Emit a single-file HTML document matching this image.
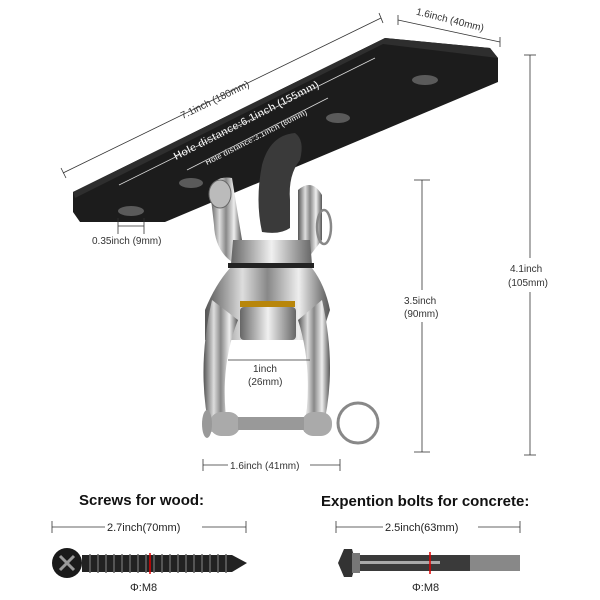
<!DOCTYPE html>
<html><head><style>
html,body{margin:0;padding:0;background:#fff;}
svg{display:block;}
text{font-family:"Liberation Sans",sans-serif;}
</style></head><body>
<svg width="600" height="600" viewBox="0 0 600 600" xmlns="http://www.w3.org/2000/svg">
<defs>
<linearGradient id="met" x1="0" x2="1" y1="0" y2="0">
<stop offset="0" stop-color="#555"/><stop offset="0.3" stop-color="#ddd"/><stop offset="0.5" stop-color="#888"/><stop offset="0.75" stop-color="#eee"/><stop offset="1" stop-color="#555"/>
</linearGradient>
<linearGradient id="met2" x1="0" x2="1"><stop offset="0" stop-color="#666"/><stop offset="0.5" stop-color="#f0f0f0"/><stop offset="1" stop-color="#666"/></linearGradient>
</defs>
<!-- plate -->
<polygon points="73,192 385,38 490,48 498,58 498,82 165,222 80,222 73,212" fill="#1c1c1c"/>
<polygon points="73,192 385,38 490,48 498,58 383,44 75,198" fill="#2e2e2e"/>
<g fill="#5a5a5a"><ellipse cx="131" cy="211" rx="13" ry="5"/><ellipse cx="191" cy="183" rx="12" ry="5"/><ellipse cx="338" cy="118" rx="12" ry="5"/><ellipse cx="425" cy="80" rx="13" ry="5"/></g>
<!-- tab -->
<path d="M262,165 Q270,135 295,133 Q305,140 300,160 Q288,175 290,200 L290,228 Q280,235 262,232 Q255,200 262,165Z" fill="#3a3a3a"/>
<!-- yoke lugs -->
<path d="M210,190 Q215,175 232,178 L242,240 L232,262 Q215,250 214,225Z" fill="url(#met)"/>
<path d="M298,190 Q312,178 322,195 L322,240 L305,262 L298,240Z" fill="url(#met)"/>
<ellipse cx="220" cy="194" rx="11" ry="14" fill="#bbb" stroke="#666"/>
<ellipse cx="324" cy="227" rx="7" ry="17" fill="none" stroke="#888" stroke-width="2.5"/>
<!-- body -->
<path d="M233,240 L310,240 L312,264 L231,264Z" fill="url(#met2)"/>
<rect x="228" y="263" width="86" height="5" fill="#222"/>
<path d="M230,268 L312,268 Q325,285 330,310 L320,340 L205,340 L205,310 Q215,285 230,268Z" fill="url(#met)"/>
<rect x="240" y="301" width="55" height="6" fill="#b8860b"/>
<rect x="240" y="307" width="56" height="33" rx="4" fill="url(#met2)"/>
<!-- shackle arms -->
<path d="M212,300 Q196,370 210,432 L228,432 Q218,370 238,320Z" fill="url(#met)"/>
<path d="M322,300 Q338,370 322,432 L304,432 Q314,370 298,320Z" fill="url(#met)"/>
<rect x="210" y="412" width="30" height="24" rx="11" fill="#aaa"/>
<rect x="302" y="412" width="30" height="24" rx="11" fill="#aaa"/>
<rect x="238" y="417" width="66" height="13" fill="#999"/>
<ellipse cx="207" cy="424" rx="5" ry="14" fill="#999"/>
<circle cx="358" cy="423" r="20" fill="none" stroke="#888" stroke-width="3"/>
<!-- dims -->
<g stroke="#333" stroke-width="0.8" fill="none">
<line x1="63" y1="173" x2="381" y2="18"/><line x1="61" y1="168" x2="66" y2="178"/><line x1="379" y1="13" x2="383" y2="23"/>
<line x1="398" y1="20" x2="500" y2="42"/><line x1="398" y1="15" x2="398" y2="25"/><line x1="500" y1="37" x2="500" y2="47"/>
<line x1="530" y1="55" x2="530" y2="258"/><line x1="530" y1="292" x2="530" y2="455"/><line x1="524" y1="55" x2="536" y2="55"/><line x1="524" y1="455" x2="536" y2="455"/>
<line x1="422" y1="180" x2="422" y2="290"/><line x1="422" y1="322" x2="422" y2="452"/><line x1="414" y1="180" x2="430" y2="180"/><line x1="414" y1="452" x2="430" y2="452"/>
<line x1="118" y1="226" x2="144" y2="226"/><line x1="118" y1="218" x2="118" y2="234"/><line x1="144" y1="218" x2="144" y2="234"/>
<line x1="228" y1="360" x2="310" y2="360"/>
<line x1="203" y1="465" x2="228" y2="465"/><line x1="310" y1="465" x2="340" y2="465"/><line x1="203" y1="459" x2="203" y2="471"/><line x1="340" y1="459" x2="340" y2="471"/>
<line x1="52" y1="527" x2="105" y2="527"/><line x1="202" y1="527" x2="246" y2="527"/><line x1="52" y1="521" x2="52" y2="533"/><line x1="246" y1="521" x2="246" y2="533"/>
<line x1="336" y1="527" x2="383" y2="527"/><line x1="478" y1="527" x2="520" y2="527"/><line x1="336" y1="521" x2="336" y2="533"/><line x1="520" y1="521" x2="520" y2="533"/>
</g>
<g stroke="#ddd" stroke-width="0.8"><line x1="119" y1="185" x2="375" y2="58"/><line x1="187" y1="170" x2="328" y2="98"/></g>
<g font-size="10" fill="#333">
<text x="215" y="103" text-anchor="middle" transform="rotate(-26 215 100)">7.1inch (180mm)</text>
<text x="450" y="23" text-anchor="middle" transform="rotate(14 450 20)">1.6inch (40mm)</text>
<text x="92" y="244">0.35inch (9mm)</text>
<text x="510" y="272">4.1inch</text><text x="508" y="286">(105mm)</text>
<text x="404" y="304">3.5inch</text><text x="404" y="317">(90mm)</text>
<text x="253" y="372">1inch</text><text x="248" y="385">(26mm)</text>
<text x="230" y="469">1.6inch (41mm)</text>
</g>
<g font-size="11" fill="#fff" stroke="#222" stroke-width="0.4" font-weight="bold">
<text x="246" y="124" text-anchor="middle" transform="rotate(-27 246 120)">Hole distance:6.1inch (155mm)</text>
</g>
<g font-size="8" fill="#fff" stroke="#222" stroke-width="0.3" font-weight="bold">
<text x="256" y="140" text-anchor="middle" transform="rotate(-27 256 137)">Hole distance:3.1inch (80mm)</text>
</g>
<text x="79" y="505" font-size="15" font-weight="bold" fill="#111">Screws for wood:</text>
<text x="321" y="506" font-size="15" font-weight="bold" fill="#111">Expention bolts for concrete:</text>
<g font-size="11" fill="#222">
<text x="107" y="531">2.7inch(70mm)</text><text x="385" y="531">2.5inch(63mm)</text>
<text x="130" y="591">Φ:M8</text><text x="412" y="591">Φ:M8</text>
</g>
<!-- screw -->
<circle cx="67" cy="563" r="15" fill="#1a1a1a"/>
<path d="M60,556 L74,570 M74,556 L60,570" stroke="#999" stroke-width="3"/>
<rect x="82" y="555" width="150" height="17" fill="#222"/>
<g stroke="#666" stroke-width="1.5"><path d="M90,554v19M98,554v19M106,554v19M114,554v19M122,554v19M130,554v19M138,554v19M146,554v19M154,554v19M162,554v19M170,554v19M178,554v19M186,554v19M194,554v19M202,554v19M210,554v19M218,554v19M226,554v19"/></g>
<polygon points="232,555 247,563 232,572" fill="#222"/>
<line x1="150" y1="553" x2="150" y2="574" stroke="#d00" stroke-width="1.5"/>
<!-- bolt -->
<polygon points="338,563 344,549 352,549 356,563 352,577 344,577" fill="#333"/>
<rect x="352" y="553" width="8" height="20" fill="#777"/>
<rect x="360" y="555" width="160" height="16" fill="#3a3a3a"/>
<rect x="360" y="561" width="80" height="3" fill="#aaa"/>
<rect x="470" y="555" width="50" height="16" fill="#888"/>
<line x1="430" y1="552" x2="430" y2="574" stroke="#d00" stroke-width="1.5"/>
</svg>
</body></html>
